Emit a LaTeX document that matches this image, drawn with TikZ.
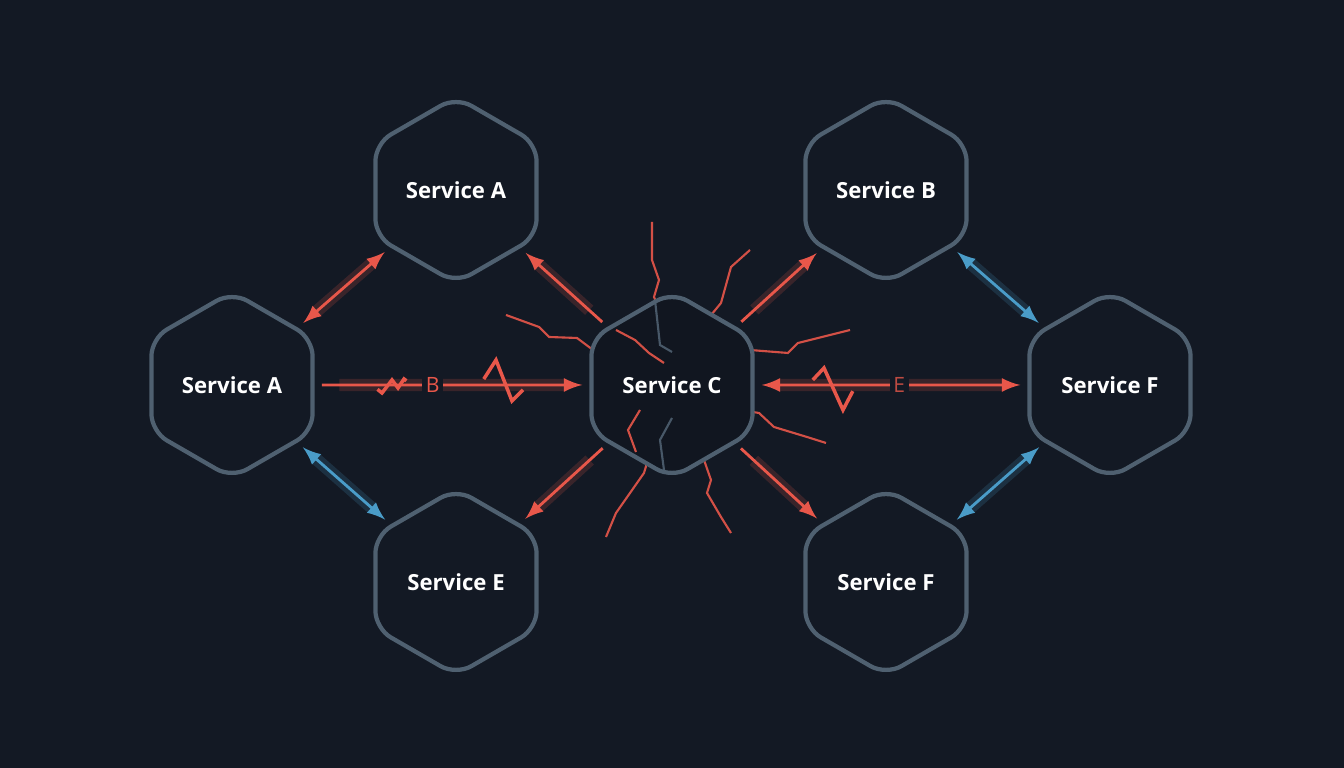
\documentclass[tikz,border=0pt]{standalone}
\usepackage{fontspec}
\setsansfont{Open Sans}
\usepackage{tikz}
\usetikzlibrary{arrows}
\usetikzlibrary{shapes.geometric}
\definecolor{bgcol}{HTML}{131924}
\definecolor{hexcol}{HTML}{4F6070}
\definecolor{redcol}{HTML}{E8574A}
\definecolor{bluecol}{HTML}{4A9CC8}

\begin{document}
\begin{tikzpicture}[x=0.01cm, y=-0.01cm,
	service/.style={regular polygon, regular polygon sides=6, shape border rotate=30, minimum size=1.86cm, inner sep=0pt, draw=hexcol, line width=1.2pt, rounded corners=5pt, fill=bgcol, text=white, font=\sffamily\bfseries\fontsize{6.3}{7}\selectfont},
	redlink/.style={draw=redcol, line width=0.8pt, shorten >=2pt, shorten <=2pt},
	bluelink/.style={draw=bluecol, line width=0.8pt, <->, >=latex, shorten >=2pt, shorten <=2pt},
	glow/.style={-, line width=3.5pt, opacity=0.18, shorten >=7pt, shorten <=7pt},
	crack/.style={draw=redcol, line width=0.6pt, opacity=0.9}]
	
	\fill[bgcol] (0,0) rectangle (1344,768);
	\useasboundingbox (0,0) rectangle (1344,768);
	
	% cracks behind the broken service
	\draw[crack] (652,222) -- (652,260) -- (659,280) -- (654,297) -- (664,320) -- (668,347);
	\draw[crack] (750,250) -- (731,267) -- (721,303) -- (707,320) -- (697,353);
	\draw[crack] (506,315) -- (539,327) -- (549,337) -- (577,338) -- (597,353) -- (635,367);
	\draw[crack] (850,330) -- (798,343) -- (788,353) -- (750,350) -- (711,367);
	\draw[crack] (721,407) -- (759,413) -- (774,427) -- (807,437) -- (826,443);
	\draw[crack] (683,417) -- (697,440) -- (711,480) -- (707,493) -- (721,517) -- (731,533);
	\draw[crack] (664,407) -- (654,440) -- (644,473) -- (630,493) -- (616,513) -- (606,537);
	
	\path (456,190) node[service](sa_top){Service A};
	\path (232,385) node[service](sa_left){Service A};
	\path (456,582) node[service](se){Service E};
	\path (672,385) node[service, fill=bgcol!90!black](sc){Service C};
	\path (886,190) node[service](sb){Service B};
	\path (1110,385) node[service](sf_right){Service F};
	\path (886,582) node[service](sf_low){Service F};
	
	% inner cracks over the broken service
	\draw[crack] (616,330) -- (635,340) -- (649,353) -- (664,363);
	\draw[crack] (640,410) -- (628,430) -- (636,452);
	\draw[crack, draw=hexcol] (655,300) -- (660,345) -- (672,352);
	\draw[crack, draw=hexcol] (672,418) -- (660,440) -- (664,470);
	
	% red links
	\draw[redlink, glow] (sa_left) -- (sa_top);
	\draw[redlink, <->, >=latex] (sa_left) -- (sa_top);
	\draw[redlink, glow] (sc) -- (sa_top);
	\draw[redlink, ->, >=latex] (sc) -- (sa_top);
	\draw[redlink, glow] (sc) -- (sb);
	\draw[redlink, ->, >=latex] (sc) -- (sb);
	\draw[redlink, glow] (sc) -- (se);
	\draw[redlink, ->, >=latex] (sc) -- (se);
	\draw[redlink, glow] (sc) -- (sf_low);
	\draw[redlink, ->, >=latex] (sc) -- (sf_low);
	
	% failing horizontal calls
	\draw[redlink, glow] (sa_left) -- (sc);
	\draw[redlink, ->, >=latex] (sa_left) -- node[pos=0.43, fill=bgcol, inner sep=1pt, text=redcol, font=\sffamily\fontsize{6}{7}\selectfont](lab_b){B} (sc);
	\draw[redlink, line width=1pt] (372,385) -- (382,393) -- (392,380) -- (398,388) -- (404,379) -- (412,385);
	\draw[redlink, line width=1pt] (480,385) -- (496,360) -- (512,401) -- (528,385);
	\draw[redlink, glow] (sc) -- (sf_right);
	\draw[redlink, <->, >=latex] (sc) -- node[pos=0.53, fill=bgcol, inner sep=1pt, text=redcol!80!bgcol, font=\sffamily\fontsize{6}{7}\selectfont](lab_e){E} (sf_right);
	\draw[redlink, line width=1pt] (808,385) -- (824,368) -- (843,410) -- (856,385);
	
	% healthy links
	\draw[bluelink, glow] (sa_left) -- (se);
	\draw[bluelink] (sa_left) -- (se);
	\draw[bluelink, glow] (sb) -- (sf_right);
	\draw[bluelink] (sb) -- (sf_right);
	\draw[bluelink, glow] (sf_right) -- (sf_low);
	\draw[bluelink] (sf_right) -- (sf_low);
\end{tikzpicture}
\end{document}
